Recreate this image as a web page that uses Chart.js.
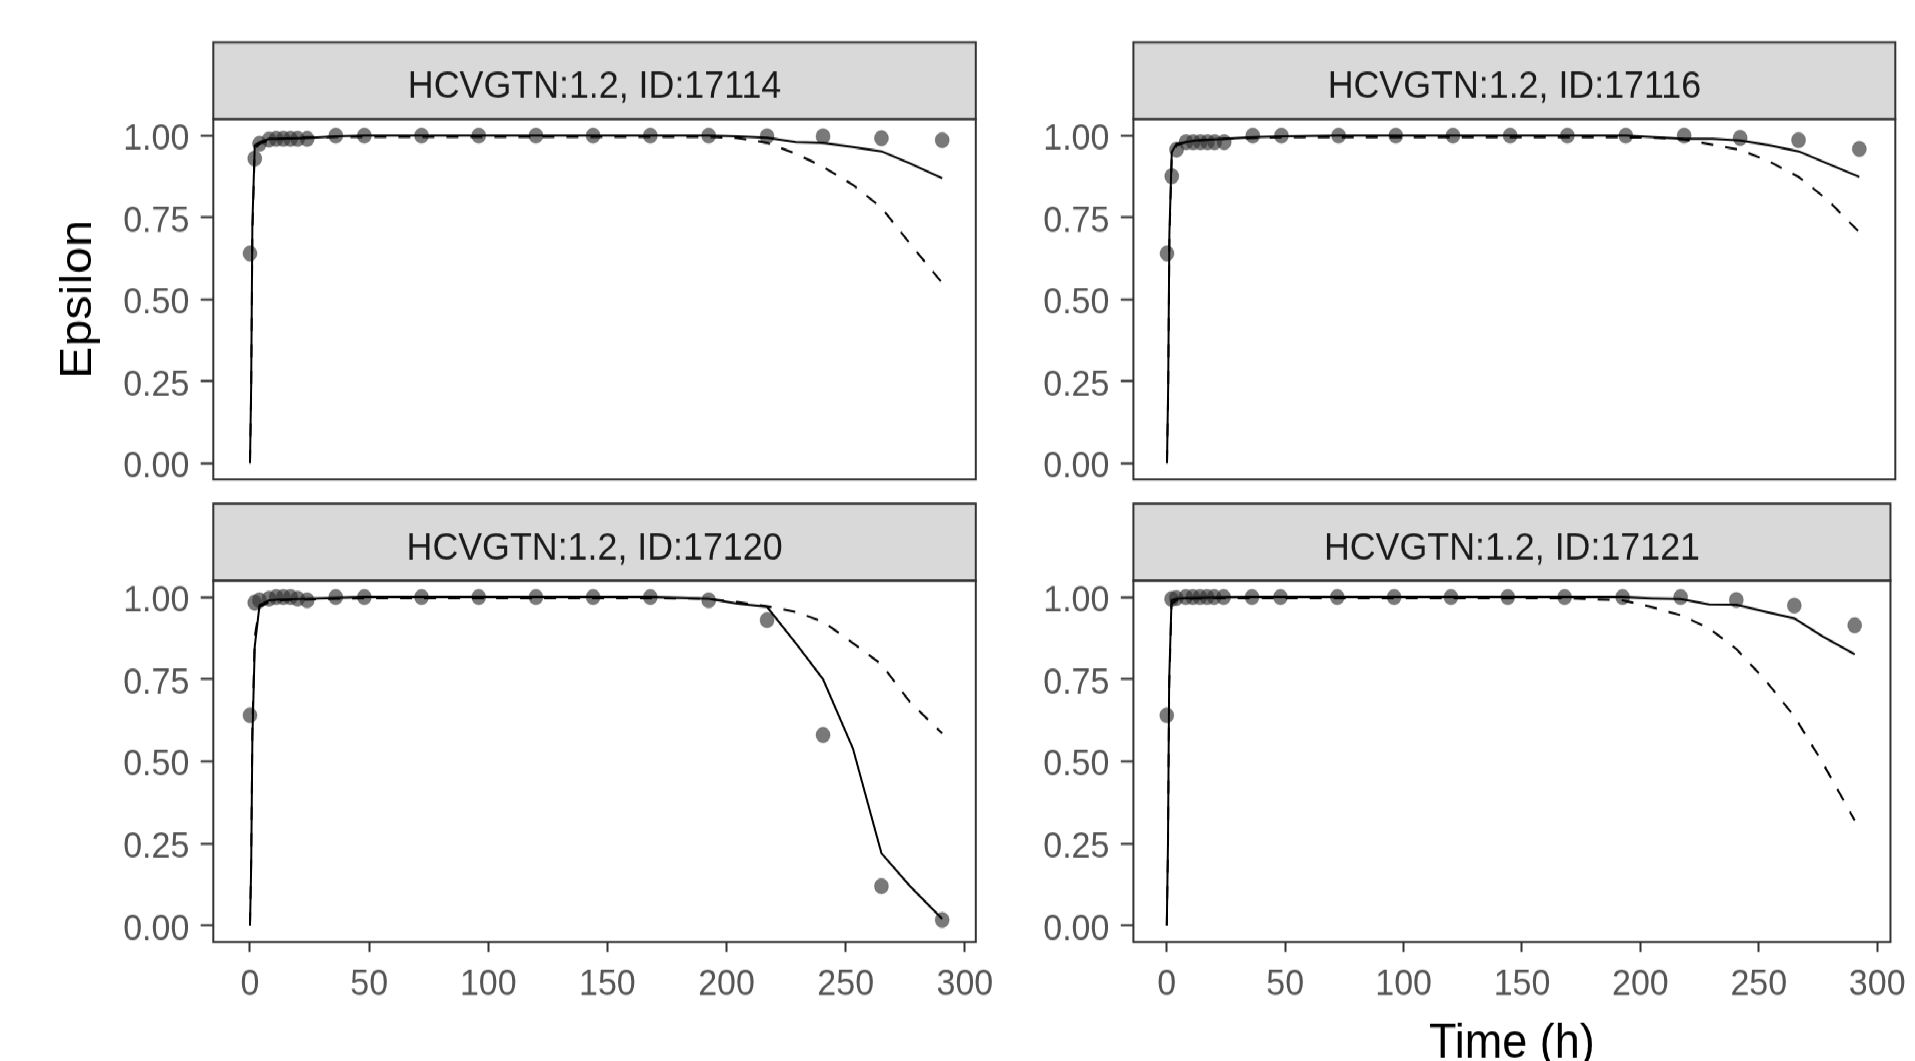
<!DOCTYPE html>
<html>
<head>
<meta charset="utf-8">
<script src="https://cdn.jsdelivr.net/npm/chart.js@4/dist/chart.umd.min.js"></script>
<style>
html, body { margin: 0; padding: 0; background: #ffffff; width: 1915px; height: 1061px; overflow: hidden; }
#stage { position: absolute; left: 0; top: 0; width: 1915px; height: 965px; transform-origin: 0 0; transform: scale(1, 1.099482); }
#stage canvas { position: absolute; left: 0; top: 0; }
</style>
</head>
<body>
<div id="stage">
  <canvas id="p0" width="1915" height="965"></canvas>
  <canvas id="p1" width="1915" height="965"></canvas>
  <canvas id="p2" width="1915" height="965"></canvas>
  <canvas id="p3" width="1915" height="965"></canvas>
</div>
<script>
// ---------------- data ----------------
const panelTitles = [
  'HCVGTN:1.2, ID:17114',
  'HCVGTN:1.2, ID:17116',
  'HCVGTN:1.2, ID:17120',
  'HCVGTN:1.2, ID:17121'
];
const xTitle = 'Time (h)';
const yTitle = 'Epsilon';
const xTicks = [0, 50, 100, 150, 200, 250, 300];
const yTicks = [0, 0.25, 0.5, 0.75, 1];

// observed epsilon (points)
const obsTime = [0, 2, 4, 8, 11, 14, 17, 20, 24, 36, 48, 72, 96, 120, 144, 168, 192.5, 217, 240.5, 265, 290.5];
const obs17114 = [0.64, 0.93, 0.975, 0.988, 0.99, 0.99, 0.99, 0.99, 0.99, 1.0, 1.0, 1.0, 1.0, 1.0, 1.0, 1.0, 1.0, 0.998, 0.998, 0.992, 0.986];
const obs17116 = [0.64, 0.876, 0.957, 0.98, 0.98, 0.98, 0.98, 0.98, 0.98, 1.0, 1.0, 1.0, 1.0, 1.0, 1.0, 1.0, 1.0, 1.0, 0.993, 0.986, 0.959];
const obs17120 = [0.64, 0.983, 0.99, 0.995, 1.0, 1.0, 1.0, 0.995, 0.99, 1.0, 1.0, 1.0, 1.0, 1.0, 1.0, 1.0, 0.99, 0.93, 0.58, 0.12, 0.017];
const obs17121 = [0.64, 0.994, 0.997, 1.0, 1.0, 1.0, 1.0, 1.0, 1.0, 1.0, 1.0, 1.0, 1.0, 1.0, 1.0, 1.0, 1.0, 1.0, 0.991, 0.974, 0.914];

// predicted epsilon (solid = individual, dashed = population)
const lineTime = [0, 0.5, 1, 2, 4, 8, 12, 24, 36, 48, 72, 96, 120, 144, 168, 192.5, 204.5, 217, 229, 240.5, 253, 265, 277, 290.5];
const solid17114 = [0, 0.24, 0.73, 0.97, 0.98, 0.99, 0.99, 0.993, 0.998, 1.0, 1.0, 1.0, 1.0, 1.0, 1.0, 1.0, 0.998, 0.994, 0.98, 0.978, 0.965, 0.952, 0.915, 0.87];
const dashed17114 = [0, 0.22, 0.70, 0.96, 0.975, 0.985, 0.99, 0.995, 0.996, 0.996, 0.996, 0.996, 0.996, 0.996, 0.996, 0.996, 0.993, 0.978, 0.945, 0.905, 0.85, 0.78, 0.67, 0.55];
const solid17116 = [0, 0.24, 0.70, 0.95, 0.975, 0.98, 0.985, 0.99, 0.995, 0.998, 1.0, 1.0, 1.0, 1.0, 1.0, 1.0, 0.995, 0.99, 0.99, 0.985, 0.97, 0.952, 0.915, 0.874];
const dashed17116 = [0, 0.22, 0.68, 0.94, 0.97, 0.98, 0.985, 0.99, 0.993, 0.995, 0.995, 0.995, 0.995, 0.995, 0.995, 0.995, 0.994, 0.988, 0.972, 0.957, 0.92, 0.874, 0.805, 0.705];
const solid17120 = [0, 0.18, 0.57, 0.85, 0.975, 0.99, 0.993, 0.995, 0.998, 1.0, 1.0, 1.0, 1.0, 1.0, 1.0, 0.995, 0.98, 0.97, 0.86, 0.75, 0.54, 0.22, 0.12, 0.02];
const dashed17120 = [0, 0.20, 0.60, 0.88, 0.97, 0.985, 0.99, 0.993, 0.995, 0.997, 0.997, 0.997, 0.997, 0.997, 0.997, 0.995, 0.985, 0.972, 0.955, 0.925, 0.86, 0.795, 0.68, 0.585];
const solid17121 = [0, 0.25, 0.745, 0.99, 0.995, 0.997, 0.998, 0.999, 1.0, 1.0, 1.0, 1.0, 1.0, 1.0, 1.0, 1.0, 0.996, 0.994, 0.978, 0.977, 0.955, 0.935, 0.88, 0.826];
const dashed17121 = [0, 0.23, 0.72, 0.98, 0.99, 0.995, 0.996, 0.997, 0.997, 0.997, 0.997, 0.997, 0.997, 0.997, 0.997, 0.99, 0.97, 0.945, 0.905, 0.842, 0.745, 0.637, 0.495, 0.32];

const obsSeries = [obs17114, obs17116, obs17120, obs17121];
const solidSeries = [solid17114, solid17116, solid17120, solid17121];
const dashedSeries = [dashed17114, dashed17116, dashed17120, dashed17121];

// ---------------- layout (logical canvas units) ----------------
const K = 1061 / 965;
const W = 1915, H = 965;
const colLeft = [213.3, 1133.4];
const colRight = [975.8, 1895.3];
const colXMin = [-15.4, -14.1];
const colXMax = [304.6, 305.6];
const rowTop = [119.3 / K, 580.7 / K];
const rowBottom = [479.5 / K, 942 / K];
const stripH = 70;
const yAxisW = 213.3;
const FONT = "'Liberation Sans', Arial, Helvetica, sans-serif";

Chart.defaults.font.family = FONT;

const framePlugin = {
  id: 'panelFrame',
  beforeDraw(chart) {
    const a = chart.chartArea, ctx = chart.ctx;
    ctx.save();
    ctx.fillStyle = '#d9d9d9';
    ctx.fillRect(a.left, a.top - stripH, a.right - a.left, stripH);
    ctx.strokeStyle = '#333333';
    ctx.lineWidth = 2;
    ctx.strokeRect(a.left, a.top - stripH, a.right - a.left, stripH);
    ctx.restore();
  },
  afterDraw(chart) {
    const a = chart.chartArea, ctx = chart.ctx;
    ctx.save();
    ctx.strokeStyle = '#333333';
    ctx.lineWidth = 2;
    ctx.strokeRect(a.left, a.top, a.right - a.left, a.bottom - a.top);
    ctx.restore();
  }
};

for (let i = 0; i < 4; i++) {
  const r = Math.floor(i / 2), c = i % 2;
  const showX = r === 1;
  const xAxisH = H - rowBottom[1];
  const pad = {
    left: colLeft[c] - yAxisW,
    right: W - colRight[c],
    top: rowTop[r] - stripH,
    bottom: showX ? 0 : H - rowBottom[r]
  };
  const solidData = lineTime.map((t, j) => ({ x: t, y: solidSeries[i][j] }));
  const dashedData = lineTime.map((t, j) => ({ x: t, y: dashedSeries[i][j] }));
  const pointData = obsTime.map((t, j) => ({ x: t, y: obsSeries[i][j] }));

  new Chart(document.getElementById('p' + i), {
    type: 'scatter',
    data: {
      datasets: [
        { label: 'solid', data: solidData, showLine: true, borderColor: '#000000', borderWidth: 2,
          pointRadius: 0, pointHoverRadius: 0, tension: 0, fill: false },
        { label: 'dashed', data: dashedData, showLine: true, borderColor: '#000000', borderWidth: 2,
          borderDash: [12, 12], pointRadius: 0, pointHoverRadius: 0, tension: 0, fill: false },
        { label: 'observed', data: pointData, showLine: false, pointRadius: 7,
          pointBackgroundColor: 'rgba(51,51,51,0.66)', pointBorderColor: 'rgba(51,51,51,0.66)', pointBorderWidth: 0.5 }
      ]
    },
    options: {
      responsive: false,
      animation: false,
      events: [],
      layout: { padding: pad, autoPadding: false },
      plugins: {
        legend: { display: false },
        tooltip: { enabled: false },
        title: {
          display: true, text: panelTitles[i], fullSize: false, color: '#1a1a1a',
          font: { family: FONT, size: 35.8, lineHeight: 1.2, weight: 'normal' },
          padding: { top: 19, bottom: 8 }
        }
      },
      scales: {
        x: {
          type: 'linear', display: showX, min: colXMin[c], max: colXMax[c],
          afterBuildTicks: s => { s.ticks = xTicks.map(v => ({ value: v })); },
          afterFit: s => { if (showX) s.height = xAxisH; },
          grid: { display: true, drawOnChartArea: false, drawTicks: true, tickLength: 9, tickWidth: 2, tickColor: '#333333' },
          border: { display: false },
          ticks: { autoSkip: false, maxRotation: 0, minRotation: 0, padding: 9, color: '#555555',
                   font: { family: FONT, size: 34, lineHeight: 1.2 }, callback: v => String(v) },
          title: { display: i === 3, text: xTitle, color: '#000000',
                   font: { family: FONT, size: 45, lineHeight: 1 }, padding: { top: 0, bottom: -7.5 } }
        },
        y: {
          type: 'linear', min: -0.05, max: 1.05,
          afterBuildTicks: s => { s.ticks = yTicks.map(v => ({ value: v })); },
          afterFit: s => { s.width = yAxisW; },
          grid: { display: true, drawOnChartArea: false, drawTicks: true, tickLength: 12.6, tickWidth: 2, tickColor: '#333333' },
          border: { display: false },
          ticks: { padding: 11.4, labelOffset: 3.6, color: '#555555', font: { family: FONT, size: 34, lineHeight: 1.2 },
                   callback: v => Number(v).toFixed(2) },
          title: { display: i === 0, text: yTitle, color: '#000000',
                   font: { family: FONT, size: 44, lineHeight: 1.2 }, padding: { top: 52, bottom: 0 } }
        }
      }
    },
    plugins: [framePlugin]
  });
}
</script>
</body>
</html>
